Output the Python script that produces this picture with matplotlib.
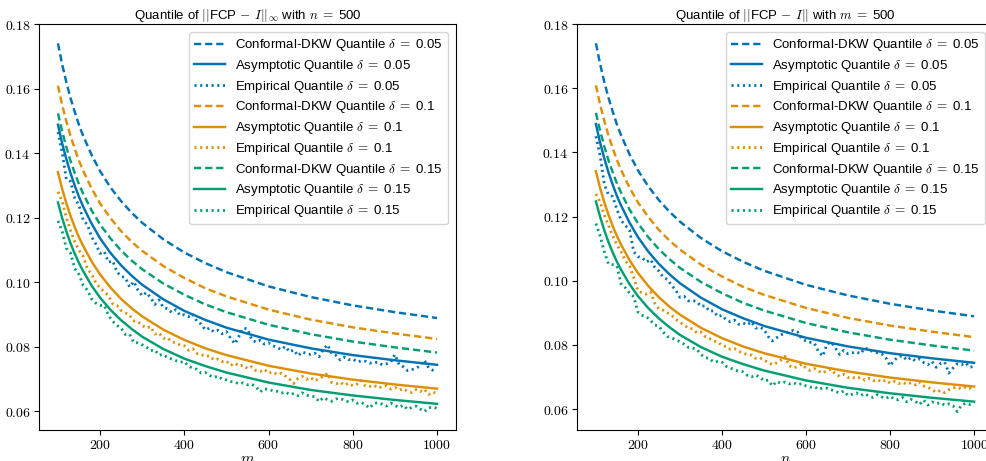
import numpy as np
import matplotlib
matplotlib.use("Agg")
import matplotlib.pyplot as plt
from matplotlib.ticker import FormatStrFormatter

plt.rcParams['font.family'] = ['Liberation Sans', 'DejaVu Sans']
plt.rcParams['mathtext.fontset'] = 'cm'
plt.rcParams['lines.scale_dashes'] = False

# smooth curves (same on both panels)
x_smooth = [100, 110, 120, 130, 140, 150, 160, 180, 200, 225, 250, 275, 300,
            350, 400, 450, 500, 600, 700, 800, 900, 1000]
dkw_005 = [0.1740, 0.1675, 0.1619, 0.1570, 0.1527, 0.1487, 0.1453, 0.1394, 0.1344, 0.1293, 0.1251,
           0.1215, 0.1184, 0.1133, 0.1092, 0.1059, 0.1031, 0.0987, 0.0954, 0.0928, 0.0907, 0.0889]
dkw_01 = [0.1609, 0.1549, 0.1498, 0.1452, 0.1413, 0.1376, 0.1345, 0.1290, 0.1244, 0.1198, 0.1158,
          0.1125, 0.1097, 0.1050, 0.1013, 0.0981, 0.0956, 0.0915, 0.0884, 0.0860, 0.0841, 0.0824]
dkw_015 = [0.1523, 0.1467, 0.1418, 0.1375, 0.1338, 0.1303, 0.1274, 0.1222, 0.1179, 0.1135, 0.1098,
           0.1067, 0.1040, 0.0996, 0.0961, 0.0931, 0.0907, 0.0868, 0.0839, 0.0816, 0.0798, 0.0782]
asym_005 = [0.1488, 0.1430, 0.1381, 0.1337, 0.1299, 0.1264, 0.1234, 0.1181, 0.1136, 0.1090, 0.1052,
            0.1020, 0.0992, 0.0947, 0.0911, 0.0883, 0.0859, 0.0822, 0.0795, 0.0774, 0.0758, 0.0744]
asym_01 = [0.1341, 0.1289, 0.1244, 0.1205, 0.1170, 0.1139, 0.1112, 0.1064, 0.1024, 0.0983, 0.0948,
           0.0919, 0.0894, 0.0853, 0.0821, 0.0795, 0.0774, 0.0741, 0.0717, 0.0698, 0.0683, 0.0670]
asym_015 = [0.1247, 0.1199, 0.1157, 0.1120, 0.1088, 0.1059, 0.1034, 0.0989, 0.0952, 0.0914, 0.0882,
            0.0855, 0.0831, 0.0793, 0.0763, 0.0740, 0.0720, 0.0689, 0.0666, 0.0649, 0.0635, 0.0623]

# empirical quantiles, every 10 from 100 to 1000
x_emp = list(range(100, 1001, 10))

# left panel (varying m, n = 500)
emp_m_005 = [0.1465, 0.1402, 0.1318, 0.1312, 0.1260, 0.1238, 0.1192, 0.1178, 0.1140, 0.1118,
             0.1089, 0.1095, 0.1062, 0.1066, 0.1032, 0.1018, 0.1014, 0.0985, 0.1002, 0.0975,
             0.0958, 0.0968, 0.0952, 0.0931, 0.0945, 0.0922, 0.0918, 0.0906, 0.0915, 0.0897,
             0.0899, 0.0893, 0.0901, 0.0878, 0.0870, 0.0852, 0.0858, 0.0846, 0.0851, 0.0840,
             0.0847, 0.0826, 0.0809, 0.0833, 0.0858, 0.0855, 0.0822, 0.0814, 0.0820, 0.0808,
             0.0812, 0.0803, 0.0798, 0.0791, 0.0801, 0.0784, 0.0790, 0.0772, 0.0784, 0.0779,
             0.0776, 0.0780, 0.0769, 0.0792, 0.0806, 0.0778, 0.0773, 0.0759, 0.0768, 0.0760,
             0.0762, 0.0753, 0.0756, 0.0755, 0.0749, 0.0751, 0.0752, 0.0744, 0.0747, 0.0752,
             0.0776, 0.0744, 0.0738, 0.0726, 0.0729, 0.0733, 0.0741, 0.0758, 0.0735, 0.0727,
             0.0724]
emp_m_01 = [0.1280, 0.1250, 0.1200, 0.1160, 0.1125, 0.1098, 0.1080, 0.1041, 0.1025, 0.0998,
            0.0982, 0.0970, 0.0958, 0.0933, 0.0928, 0.0912, 0.0905, 0.0898, 0.0880, 0.0878,
            0.0866, 0.0858, 0.0862, 0.0839, 0.0843, 0.0826, 0.0828, 0.0815, 0.0812, 0.0805,
            0.0803, 0.0789, 0.0794, 0.0779, 0.0776, 0.0770, 0.0772, 0.0759, 0.0762, 0.0754,
            0.0756, 0.0742, 0.0749, 0.0740, 0.0743, 0.0732, 0.0738, 0.0726, 0.0723, 0.0730,
            0.0718, 0.0722, 0.0714, 0.0718, 0.0709, 0.0699, 0.0686, 0.0702, 0.0708, 0.0699,
            0.0705, 0.0694, 0.0702, 0.0708, 0.0718, 0.0689, 0.0685, 0.0690, 0.0681, 0.0687,
            0.0679, 0.0684, 0.0695, 0.0678, 0.0677, 0.0681, 0.0672, 0.0676, 0.0679, 0.0669,
            0.0674, 0.0666, 0.0670, 0.0662, 0.0658, 0.0667, 0.0661, 0.0668, 0.0652, 0.0660,
            0.0654]
emp_m_015 = [0.1190, 0.1158, 0.1105, 0.1090, 0.1042, 0.1024, 0.0990, 0.0975, 0.0948, 0.0935,
             0.0928, 0.0928, 0.0897, 0.0879, 0.0866, 0.0858, 0.0838, 0.0839, 0.0813, 0.0812,
             0.0806, 0.0799, 0.0788, 0.0790, 0.0774, 0.0776, 0.0766, 0.0762, 0.0757, 0.0752,
             0.0754, 0.0740, 0.0733, 0.0730, 0.0718, 0.0720, 0.0711, 0.0705, 0.0709, 0.0699,
             0.0697, 0.0692, 0.0690, 0.0685, 0.0688, 0.0682, 0.0684, 0.0676, 0.0660, 0.0670,
             0.0667, 0.0664, 0.0662, 0.0656, 0.0660, 0.0652, 0.0655, 0.0648, 0.0657, 0.0650,
             0.0647, 0.0645, 0.0630, 0.0642, 0.0636, 0.0631, 0.0638, 0.0640, 0.0634, 0.0629,
             0.0635, 0.0625, 0.0628, 0.0620, 0.0610, 0.0624, 0.0627, 0.0622, 0.0616, 0.0625,
             0.0618, 0.0612, 0.0619, 0.0606, 0.0612, 0.0616, 0.0607, 0.0599, 0.0611, 0.0613,
             0.0609]

# right panel (varying n, m = 500)
emp_n_005 = [0.1450, 0.1390, 0.1300, 0.1268, 0.1262, 0.1222, 0.1188, 0.1172, 0.1158, 0.1090,
             0.1075, 0.1072, 0.1058, 0.1066, 0.1042, 0.1030, 0.1011, 0.1004, 0.0986, 0.0970,
             0.0948, 0.0951, 0.0937, 0.0938, 0.0935, 0.0920, 0.0922, 0.0905, 0.0906, 0.0888,
             0.0892, 0.0878, 0.0872, 0.0877, 0.0864, 0.0868, 0.0862, 0.0872, 0.0852, 0.0855,
             0.0848, 0.0826, 0.0812, 0.0822, 0.0831, 0.0836, 0.0842, 0.0845, 0.0840, 0.0818,
             0.0812, 0.0808, 0.0805, 0.0778, 0.0765, 0.0803, 0.0808, 0.0790, 0.0770, 0.0783,
             0.0772, 0.0775, 0.0778, 0.0772, 0.0790, 0.0786, 0.0778, 0.0775, 0.0772, 0.0760,
             0.0735, 0.0752, 0.0763, 0.0766, 0.0752, 0.0760, 0.0750, 0.0756, 0.0745, 0.0738,
             0.0748, 0.0730, 0.0742, 0.0746, 0.0712, 0.0728, 0.0741, 0.0738, 0.0744, 0.0730,
             0.0733]
emp_n_01 = [0.1270, 0.1245, 0.1205, 0.1172, 0.1140, 0.1112, 0.1090, 0.1062, 0.1046, 0.1010,
            0.0968, 0.0962, 0.0958, 0.0965, 0.0930, 0.0912, 0.0908, 0.0900, 0.0892, 0.0880,
            0.0870, 0.0862, 0.0852, 0.0850, 0.0838, 0.0840, 0.0826, 0.0820, 0.0812, 0.0810,
            0.0797, 0.0795, 0.0786, 0.0788, 0.0780, 0.0774, 0.0770, 0.0768, 0.0758, 0.0760,
            0.0752, 0.0746, 0.0738, 0.0744, 0.0752, 0.0764, 0.0735, 0.0728, 0.0732, 0.0740,
            0.0727, 0.0720, 0.0726, 0.0718, 0.0712, 0.0720, 0.0724, 0.0709, 0.0702, 0.0708,
            0.0698, 0.0700, 0.0694, 0.0699, 0.0690, 0.0696, 0.0688, 0.0692, 0.0684, 0.0690,
            0.0681, 0.0686, 0.0679, 0.0683, 0.0677, 0.0682, 0.0675, 0.0684, 0.0672, 0.0668,
            0.0660, 0.0652, 0.0658, 0.0651, 0.0660, 0.0666, 0.0668, 0.0662, 0.0669, 0.0665,
            0.0668]
emp_n_015 = [0.1178, 0.1140, 0.1090, 0.1052, 0.1050, 0.1046, 0.0990, 0.0978, 0.0962, 0.0950,
             0.0902, 0.0892, 0.0888, 0.0876, 0.0862, 0.0858, 0.0840, 0.0826, 0.0822, 0.0816,
             0.0810, 0.0802, 0.0792, 0.0790, 0.0786, 0.0770, 0.0760, 0.0758, 0.0746, 0.0748,
             0.0746, 0.0733, 0.0728, 0.0722, 0.0718, 0.0716, 0.0705, 0.0700, 0.0706, 0.0700,
             0.0688, 0.0690, 0.0672, 0.0686, 0.0680, 0.0684, 0.0678, 0.0682, 0.0676, 0.0679,
             0.0672, 0.0668, 0.0670, 0.0661, 0.0666, 0.0665, 0.0660, 0.0655, 0.0650, 0.0656,
             0.0642, 0.0646, 0.0650, 0.0642, 0.0648, 0.0640, 0.0636, 0.0645, 0.0638, 0.0633,
             0.0640, 0.0631, 0.0629, 0.0636, 0.0622, 0.0630, 0.0624, 0.0614, 0.0628, 0.0612,
             0.0622, 0.0617, 0.0620, 0.0612, 0.0616, 0.0610, 0.0592, 0.0612, 0.0618, 0.0614,
             0.0620]

deltas = ['0.05', '0.1', '0.15']
colors = ['#0173b2', '#de8f05', '#029e73']

DASH = (0, (5.2, 2.8))
DOT = (0, (1.5, 2.6))
LW = 1.75


def draw(ax, emp, title, xlabel):
    dkw = [dkw_005, dkw_01, dkw_015]
    asym = [asym_005, asym_01, asym_015]
    for i in range(3):
        d = deltas[i]
        ax.plot(x_smooth, dkw[i], color=colors[i], lw=LW, linestyle=DASH,
                label=r'Conformal-DKW Quantile $\delta\;=\;$' + d)
        ax.plot(x_smooth, asym[i], color=colors[i], lw=LW, linestyle='-',
                label=r'Asymptotic Quantile $\delta\;=\;$' + d)
        ax.plot(x_emp, emp[i], color=colors[i], lw=2.0, linestyle=DOT,
                label=r'Empirical Quantile $\delta\;=\;$' + d)
    ax.set_title(title, fontsize=9.5, pad=3)
    ax.set_xlabel(xlabel, fontsize=11, labelpad=0)
    ax.set_xticks([200, 400, 600, 800, 1000])
    ax.set_yticks([0.06, 0.08, 0.10, 0.12, 0.14, 0.16, 0.18])
    ax.xaxis.set_major_formatter(FormatStrFormatter(r'$%d$'))
    ax.yaxis.set_major_formatter(FormatStrFormatter(r'$%.2f$'))
    ax.tick_params(labelsize=10, pad=2.5)
    ax.legend(loc='upper right', fontsize=9.5, handlelength=2.3,
              labelspacing=0.36, borderaxespad=0.6)


fig = plt.figure(figsize=(9.86, 4.61), dpi=100)
ax1 = fig.add_axes([39 / 986, 31 / 461, 417 / 986, 406 / 461])
ax2 = fig.add_axes([577 / 986, 31 / 461, 416 / 986, 406 / 461])

draw(ax1, [emp_m_005, emp_m_01, emp_m_015],
     r'Quantile of $||$FCP$\,-\,I||_\infty$ with $n\;=\;$500', r'$m$')
draw(ax2, [emp_n_005, emp_n_01, emp_n_015],
     r'Quantile of $||$FCP$\,-\,I||$ with $m\;=\;$500', r'$n$')

fig.savefig('out.png', dpi=100)
